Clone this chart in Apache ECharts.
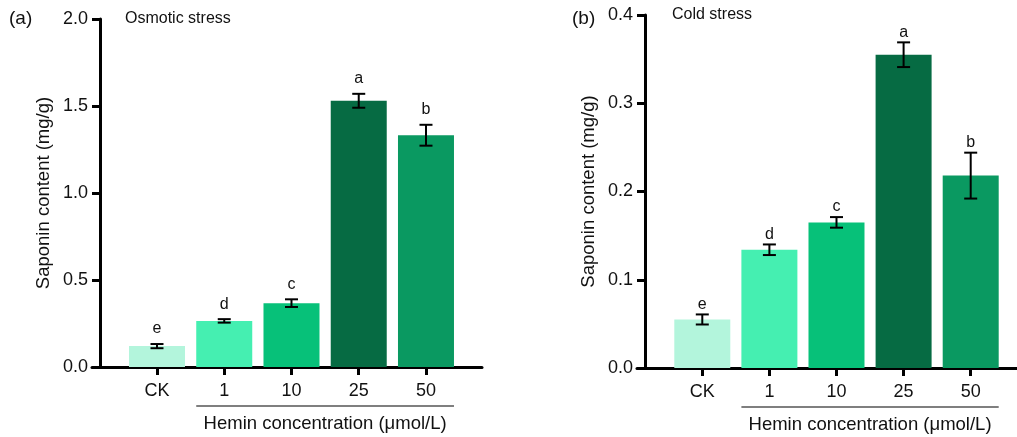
<!DOCTYPE html>
<html><head><meta charset="utf-8">
<script src="https://cdn.jsdelivr.net/npm/echarts@6/dist/echarts.min.js"></script>
<style>html,body{margin:0;padding:0;background:#fff}#c{width:1017px;height:437px}</style>
</head><body><div id="c"></div>
<script>
const categories = ['CK', '1', '10', '25', '50'];
const osmoticMeans = [0.120, 0.265, 0.367, 1.530, 1.332];
const osmoticErrors = [0.012, 0.010, 0.022, 0.040, 0.060];
const osmoticLetters = ['e', 'd', 'c', 'a', 'b'];
const coldMeans = [0.055, 0.134, 0.165, 0.355, 0.218];
const coldErrors = [0.0057, 0.006, 0.006, 0.014, 0.026];
const coldLetters = ['e', 'd', 'c', 'a', 'b'];
const osmoticTicks = [0, 0.5, 1.0, 1.5, 2.0];
const coldTicks = [0, 0.1, 0.2, 0.3, 0.4];
const barColors = ['#b3f5dc', '#45efb1', '#07c179', '#066b43', '#0a9961'];

const FONT = "'Liberation Sans', Arial, sans-serif";
const BAR_W = 56;
const chart = echarts.init(document.getElementById('c'));

function barData(means) {
  return means.map((v, i) => ({ value: [i, v], itemStyle: { color: barColors[i] } }));
}
function errData(means, errs) {
  return means.map((v, i) => [i, v, errs[i]]);
}
function errRender(letters, gap) {
  return function (params, api) {
    const x = api.value(0), m = api.value(1), e = api.value(2);
    const top = api.coord([x, m + e]), bot = api.coord([x, m - e]);
    const cap = 6.5, st = { stroke: '#000', lineWidth: 2 };
    return { type: 'group', children: [
      { type: 'line', shape: { x1: top[0], y1: top[1], x2: bot[0], y2: bot[1] }, style: st },
      { type: 'line', shape: { x1: top[0] - cap, y1: top[1], x2: top[0] + cap, y2: top[1] }, style: st },
      { type: 'line', shape: { x1: bot[0] - cap, y1: bot[1], x2: bot[0] + cap, y2: bot[1] }, style: st },
      { type: 'text', style: { text: letters[params.dataIndex], x: top[0], y: top[1] - gap,
        align: 'center', verticalAlign: 'bottom', fill: '#111', font: '16px ' + FONT } }
    ] };
  };
}
function xAxisCfg(gi, min, max) {
  return {
    type: 'value', gridIndex: gi, min: min, max: max,
    axisLine: { show: true, onZero: false, lineStyle: { color: '#000', width: 3 } },
    axisTick: { show: true, customValues: [0, 1, 2, 3, 4], length: 8, lineStyle: { color: '#000', width: 3 } },
    axisLabel: { customValues: [0, 1, 2, 3, 4], formatter: v => categories[Math.round(v)] || '',
      color: '#111', fontSize: 18, fontFamily: FONT, margin: 15 },
    splitLine: { show: false }
  };
}
function yAxisCfg(gi, ticks) {
  return {
    type: 'value', gridIndex: gi, min: ticks[0], max: ticks[ticks.length - 1],
    interval: ticks[1] - ticks[0], offset: -8,
    name: 'Saponin content (mg/g)', nameLocation: 'middle', nameGap: 47, nameRotate: 90,
    nameTextStyle: { color: '#111', fontSize: 18.5, fontFamily: FONT },
    axisLine: { show: true, onZero: false, lineStyle: { color: '#000', width: 3 } },
    axisTick: { show: true, length: 8, lineStyle: { color: '#000', width: 3 } },
    axisLabel: { formatter: v => v.toFixed(1), color: '#111', fontSize: 18, fontFamily: FONT, margin: 12 },
    splitLine: { show: false }
  };
}

chart.setOption({
  animation: false,
  backgroundColor: '#fff',
  title: [
    { text: 'Osmotic stress', left: 125, top: 11, padding: 0, textStyle: { fontSize: 16, fontWeight: 'normal', color: '#111', fontFamily: FONT } },
    { text: 'Cold stress', left: 672, top: 7, padding: 0, textStyle: { fontSize: 16, fontWeight: 'normal', color: '#111', fontFamily: FONT } },
    { text: '(a)', left: 9, top: 9, padding: 0, textStyle: { fontSize: 19, fontWeight: 'normal', color: '#111', fontFamily: FONT } },
    { text: '(b)', left: 572, top: 9, padding: 0, textStyle: { fontSize: 19, fontWeight: 'normal', color: '#111', fontFamily: FONT } }
  ],
  grid: [
    { left: 92, top: 19, width: 390, height: 348 },
    { left: 637, top: 15, width: 380, height: 353 }
  ],
  xAxis: [xAxisCfg(0, -0.9665, 4.833), xAxisCfg(1, -0.973, 4.69)],
  yAxis: [yAxisCfg(0, osmoticTicks), yAxisCfg(1, coldTicks)],
  series: [
    { type: 'bar', xAxisIndex: 0, yAxisIndex: 0, barWidth: BAR_W, data: barData(osmoticMeans) },
    { type: 'custom', xAxisIndex: 0, yAxisIndex: 0, renderItem: errRender(osmoticLetters, 7), data: errData(osmoticMeans, osmoticErrors), z: 5 },
    { type: 'bar', xAxisIndex: 1, yAxisIndex: 1, barWidth: BAR_W, data: barData(coldMeans) },
    { type: 'custom', xAxisIndex: 1, yAxisIndex: 1, renderItem: errRender(coldLetters, 2), data: errData(coldMeans, coldErrors), z: 5 }
  ]
});

const graphics = [];
[0, 1].forEach(gi => {
  const p1 = chart.convertToPixel({ gridIndex: gi }, [1, 0]);
  const p4 = chart.convertToPixel({ gridIndex: gi }, [4, 0]);
  const x1 = p1[0] - BAR_W / 2, x2 = p4[0] + BAR_W / 2, y0 = p1[1];
  graphics.push({ type: 'line', shape: { x1: x1, y1: y0 + 39, x2: x2, y2: y0 + 39 }, style: { stroke: '#555', lineWidth: 1.4 } });
  graphics.push({ type: 'text', x: (x1 + x2) / 2, y: y0 + 57, style: { text: 'Hemin concentration (μmol/L)',
    align: 'center', verticalAlign: 'middle', fill: '#111', font: '18.5px ' + FONT } });
});
chart.setOption({ graphic: graphics });
</script></body></html>
